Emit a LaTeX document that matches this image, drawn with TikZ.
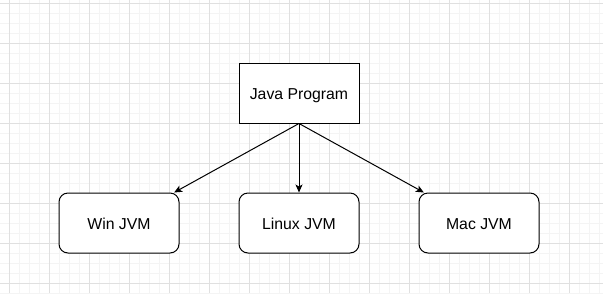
\documentclass[tikz,border=0pt]{standalone}
\usepackage{fontspec}
\setmainfont{Liberation Sans}
\usetikzlibrary{arrows.meta}
\definecolor{gridminor}{RGB}{244,244,244}
\definecolor{gridmajor}{RGB}{224,224,224}
\begin{document}
\begin{tikzpicture}[x=1pt,y=-1pt,
  minorline/.style={draw=gridminor,line width=1pt},
  majorline/.style={draw=gridmajor,line width=1pt},
  plainbox/.style={draw=black,line width=1pt,fill=white,minimum width=120pt,minimum height=60pt,inner sep=0pt,
    text height=12.5pt,text depth=0pt,font=\fontsize{15.8pt}{18pt}\selectfont},
  roundbox/.style={plainbox,rounded corners=9pt},
  arr/.style={draw=black,line width=1pt,-{Stealth[length=8pt,width=7pt,inset=2pt]}}]
  \useasboundingbox (0,0) rectangle (603,293);
  % paper and grid
  \fill[white] (0,0) rectangle (603,293);
  \foreach \x in {19,29,...,599} \draw[minorline] (\x,0) -- (\x,293);
  \foreach \y in {13,23,...,293} \draw[minorline] (0,\y) -- (603,\y);
  \foreach \x in {9,49,...,569} \draw[majorline] (\x,0) -- (\x,293);
  \foreach \y in {3,43,...,283} \draw[majorline] (0,\y) -- (603,\y);
  % program and the virtual machines
  \node[plainbox] (jp) at (299,93) {Java Program};
  \node[roundbox] (win) at (119,223) {Win JVM};
  \node[roundbox] (linux) at (299,223) {Linux JVM};
  \node[roundbox] (mac) at (479,223) {Mac JVM};
  % connectors
  \draw[arr] (jp.south) -- (win);
  \draw[arr] (jp.south) -- (linux.north);
  \draw[arr] (jp.south) -- (mac);
\end{tikzpicture}
\end{document}
